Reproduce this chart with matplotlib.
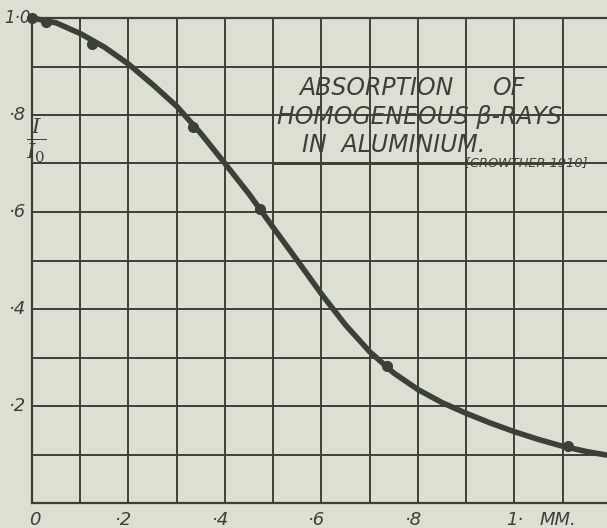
import matplotlib
matplotlib.use('Agg')
import matplotlib.pyplot as plt
import numpy as np

# Data (thickness in mm, I / I0)
measured_x = [0.0, 0.03, 0.125, 0.333, 0.473, 0.736, 1.112]
measured_y = [1.0, 0.992, 0.946, 0.775, 0.606, 0.282, 0.118]

curve_x = [0.0, 0.05, 0.1, 0.15, 0.2, 0.25, 0.3, 0.35, 0.4, 0.45, 0.5, 0.55,
           0.6, 0.65, 0.7, 0.75, 0.8, 0.85, 0.9, 0.95, 1.0, 1.05, 1.1, 1.15, 1.19]
curve_y = [1.0, 0.99, 0.968, 0.94, 0.905, 0.863, 0.818, 0.762, 0.70, 0.637, 0.568, 0.500,
           0.431, 0.367, 0.312, 0.268, 0.234, 0.207, 0.185, 0.165, 0.147, 0.131, 0.117, 0.106, 0.099]

x_tick_labels = ['0', '·2', '·4', '·6', '·8', '1·']
x_tick_values = [0.0, 0.2, 0.4, 0.6, 0.8, 1.0]
y_tick_labels = ['·2', '·4', '·6', '·8']
y_tick_values = [0.2, 0.4, 0.6, 0.8]

paper = '#dcdfd2'
ink = '#3b4136'

plt.rcParams['mathtext.fontset'] = 'dejavuserif'

fig = plt.figure(figsize=(6.07, 5.28), dpi=100, facecolor=paper)
ax = fig.add_axes([32 / 607, 25 / 528, 575 / 607, 485 / 528], facecolor=paper)
ax.set_xlim(0, 1.192)
ax.set_ylim(0, 1.0)

# squared paper: a line every 0.1 both ways
ax.set_xticks(np.arange(0, 1.15, 0.1))
ax.set_yticks(np.arange(0, 1.01, 0.1))
ax.tick_params(length=0, labelbottom=False, labelleft=False)
ax.grid(True, color=ink, lw=1.4)
for side in ['left', 'bottom', 'top']:
    ax.spines[side].set_color(ink)
    ax.spines[side].set_linewidth(1.6)
ax.spines['right'].set_visible(False)

# blank panel for the title, framed by grid lines
ax.add_patch(plt.Rectangle((0.5, 0.7), 0.6, 0.2, facecolor=paper, edgecolor=ink,
                           lw=1.4, zorder=1.5))

ax.plot(curve_x, curve_y, color=ink, lw=4, solid_capstyle='round', zorder=3, clip_on=False)
ax.plot(measured_x, measured_y, 'o', color=ink, ms=7, zorder=4, clip_on=False)

font = dict(family='DejaVu Sans', style='italic', color=ink)
for v, lab in zip(x_tick_values, x_tick_labels):
    shift = 0.006 if lab == '0' else (0.0 if lab == '1·' else -0.01)
    ax.text(v + shift, -0.035, lab, ha='center', va='center', fontsize=13, **font)
ax.text(1.053, -0.035, 'MM.', ha='left', va='center', fontsize=13, **font)
for v, lab in zip(y_tick_values, y_tick_labels):
    ax.text(-0.012, v, lab, ha='right', va='center', fontsize=13, **font)
ax.text(-0.003, 1.0, '1·0', ha='right', va='center', fontsize=12, **font)

ax.text(0.009, 0.748, r'$\frac{I}{I_0}$', ha='center', va='center', fontsize=22, color=ink)

ax.text(0.555, 0.856, 'ABSORPTION', ha='left', va='center', fontsize=17, **font)
ax.text(0.953, 0.856, 'OF', ha='left', va='center', fontsize=17, **font)
ax.text(0.508, 0.796, 'HOMOGENEOUS β-RAYS', ha='left', va='center', fontsize=17, **font)
ax.text(0.56, 0.738, 'IN  ALUMINIUM.', ha='left', va='center', fontsize=17, **font)
ax.text(0.897, 0.703, '[CROWTHER 1910]', ha='left', va='center', fontsize=9.3, **font)

fig.savefig('out.png', dpi=100, facecolor=paper)
